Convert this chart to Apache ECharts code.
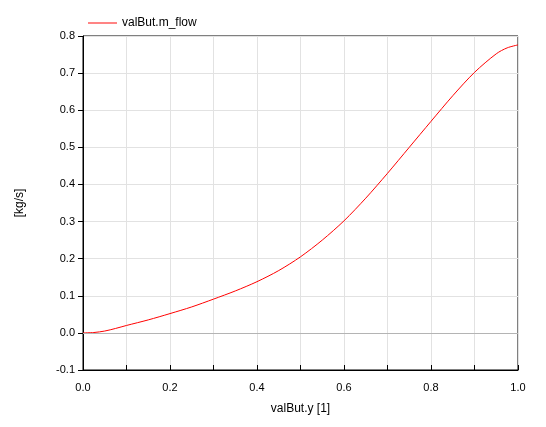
<!DOCTYPE html>
<html>
<head>
<meta charset="utf-8">
<script src="https://cdn.jsdelivr.net/npm/echarts@6/dist/echarts.min.js"></script>
<style>html,body{margin:0;padding:0;background:#fff}#c{width:546px;height:427px}</style>
</head>
<body>
<div id="c"></div>
<script>
const seriesName = 'valBut.m_flow';
const xValues = [0, 0.025, 0.05, 0.075, 0.1, 0.15, 0.2, 0.25, 0.3, 0.35, 0.4, 0.45, 0.5, 0.55, 0.6, 0.65, 0.7, 0.75, 0.8, 0.85, 0.9, 0.95, 0.975, 1.0];
const yValues = [0, 0.001, 0.005, 0.012, 0.02, 0.035, 0.052, 0.07, 0.091, 0.113, 0.138, 0.168, 0.205, 0.25, 0.302, 0.363, 0.43, 0.5, 0.57, 0.639, 0.702, 0.752, 0.768, 0.776];
const xAxisName = 'valBut.y [1]';
const yAxisName = '[kg/s]';

const chart = echarts.init(document.getElementById('c'));
const font = 'Liberation Sans, Arial, sans-serif';
chart.setOption({
  animation: false,
  textStyle: { fontFamily: font },
  legend: {
    left: 83, top: 12, itemWidth: 29, itemHeight: 14,
    textStyle: { fontSize: 12, color: '#000', fontFamily: font },
    data: [{ name: seriesName, icon: 'path://M0,0 L30,0 L30,1 L0,1 Z' }]
  },
  grid: { left: 83, right: 28, top: 36, bottom: 57, show: true, borderColor: '#000', borderWidth: 1, backgroundColor: 'transparent' },
  xAxis: {
    type: 'value', min: 0, max: 1, interval: 0.1,
    name: xAxisName, nameLocation: 'middle', nameGap: 33,
    nameTextStyle: { fontSize: 12, color: '#000', fontFamily: font },
    axisLine: { show: true, onZero: false, lineStyle: { color: '#000', width: 1 } },
    axisTick: { show: true, inside: true, length: 5, lineStyle: { color: '#000' } },
    axisLabel: {
      fontSize: 11, color: '#000', margin: 12, fontFamily: font,
      formatter: function (v) { const k = Math.round(v * 10); return k % 2 === 0 ? (k / 10).toFixed(1) : ''; }
    },
    splitLine: { show: true, lineStyle: { color: '#e2e2e2', width: 1 } }
  },
  yAxis: {
    type: 'value', min: -0.1, max: 0.8, interval: 0.1,
    name: yAxisName, nameLocation: 'middle', nameGap: 57, nameRotate: 90,
    nameTextStyle: { fontSize: 12, color: '#000', fontFamily: font },
    axisLine: { show: true, onZero: false, lineStyle: { color: '#000', width: 1 } },
    axisTick: { show: true, inside: false, length: 5, lineStyle: { color: '#000' } },
    axisLabel: { fontSize: 11, color: '#000', margin: 8, fontFamily: font, formatter: function (v) { return v.toFixed(1); } },
    splitLine: { show: true, lineStyle: { color: '#e2e2e2', width: 1 } }
  },
  series: [{
    name: seriesName, type: 'line', symbol: 'none', smooth: 0.3,
    lineStyle: { color: '#ff0000', width: 1 }, itemStyle: { color: '#ff0000' },
    data: xValues.map((x, i) => [x, yValues[i]]),
    markLine: {
      silent: true, symbol: 'none', label: { show: false },
      lineStyle: { color: '#b4b4b4', type: 'solid', width: 1 },
      data: [{ yAxis: 0 }]
    },
    z: 3
  }]
});
</script>
</body>
</html>
